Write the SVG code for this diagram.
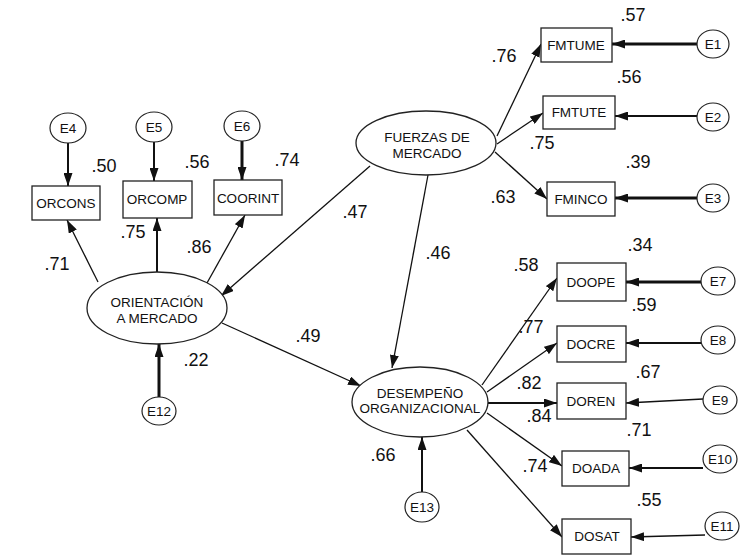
<svg xmlns="http://www.w3.org/2000/svg" width="747" height="560" viewBox="0 0 747 560">
<style>
.bg{fill:#fff}
.box{fill:#fff;stroke:#222;stroke-width:1.3}
.lat{fill:#fff;stroke:#222;stroke-width:1.3}
.err{fill:#fff;stroke:#222;stroke-width:1.2}
.lbl{font-family:"Liberation Sans",Arial,sans-serif;font-size:13.5px;fill:#111;text-anchor:middle}
.num{font-family:"Liberation Sans",Arial,sans-serif;font-size:18px;fill:#111;text-anchor:middle}
.c{stroke:#111;stroke-width:1.3;fill:none;marker-end:url(#ah)}
.t2{stroke-width:2}
.t3{stroke-width:3}
</style>
<defs>
<marker id="ah" markerUnits="userSpaceOnUse" markerWidth="13" markerHeight="9" refX="13" refY="4.5" orient="auto">
<path d="M0,0 L13,4.5 L0,9 z" fill="#111"/>
</marker>
</defs>
<rect class="bg" x="0" y="0" width="747" height="560"/>
<g id="connectors">
<line class="c t2" x1="68" y1="143" x2="68" y2="186"/>
<line class="c t2" x1="154" y1="142" x2="154" y2="181"/>
<line class="c t3" x1="242" y1="141" x2="242" y2="180"/>
<line class="c" x1="98" y1="282" x2="67" y2="220"/>
<line class="c t2" x1="157" y1="272" x2="157" y2="218"/>
<line class="c" x1="207" y1="283" x2="245" y2="215"/>
<line class="c" x1="370" y1="166" x2="221" y2="296"/>
<line class="c" x1="428" y1="175" x2="392" y2="368"/>
<line class="c" x1="497" y1="136" x2="541" y2="44"/>
<line class="c" x1="497" y1="144" x2="543" y2="113"/>
<line class="c" x1="495" y1="152" x2="547" y2="199"/>
<line class="c t3" x1="697" y1="44" x2="612" y2="44"/>
<line class="c t2" x1="697" y1="116" x2="615" y2="116"/>
<line class="c t3" x1="697" y1="198" x2="615" y2="198"/>
<line class="c" x1="222" y1="323" x2="361" y2="386"/>
<line class="c t3" x1="159" y1="397" x2="159" y2="344"/>
<line class="c t2" x1="422" y1="492" x2="422" y2="437"/>
<line class="c" x1="482" y1="385" x2="557" y2="278"/>
<line class="c" x1="487" y1="392" x2="557" y2="343"/>
<line class="c t2" x1="488" y1="403" x2="557" y2="403"/>
<line class="c" x1="487" y1="413" x2="562" y2="466"/>
<line class="c" x1="467" y1="430" x2="562" y2="537"/>
<line class="c t3" x1="701" y1="282" x2="626" y2="282"/>
<line class="c t2" x1="701" y1="343" x2="626" y2="343"/>
<line class="c" x1="703" y1="399" x2="626" y2="403"/>
<line class="c t2" x1="703" y1="468" x2="629" y2="468"/>
<line class="c" x1="705" y1="535" x2="631" y2="537"/>
</g>
<g id="OR"><ellipse class="lat" cx="157" cy="308" rx="70" ry="36"/><text class="lbl" x="157" y="307">ORIENTACIÓN</text><text class="lbl" x="157" y="323">A MERCADO</text></g>
<g id="FM"><ellipse class="lat" cx="426" cy="143" rx="70" ry="32"/><text class="lbl" x="427" y="142">FUERZAS DE</text><text class="lbl" x="427" y="158">MERCADO</text></g>
<g id="DO"><ellipse class="lat" cx="420" cy="402" rx="68" ry="35"/><text class="lbl" x="420" y="398">DESEMPEÑO</text><text class="lbl" x="420" y="413">ORGANIZACIONAL</text></g>
<g id="ORCONS"><rect class="box" x="32" y="186" width="68" height="34"/><text class="lbl" x="66" y="208">ORCONS</text></g>
<g id="ORCOMP"><rect class="box" x="123" y="181" width="69" height="37"/><text class="lbl" x="157" y="204">ORCOMP</text></g>
<g id="COORINT"><rect class="box" x="214" y="180" width="68" height="35"/><text class="lbl" x="248" y="203">COORINT</text></g>
<g id="FMTUME"><rect class="box" x="541" y="28" width="71" height="34"/><text class="lbl" x="576" y="50">FMTUME</text></g>
<g id="FMTUTE"><rect class="box" x="543" y="96" width="72" height="33"/><text class="lbl" x="579" y="117">FMTUTE</text></g>
<g id="FMINCO"><rect class="box" x="547" y="182" width="68" height="34"/><text class="lbl" x="581" y="204">FMINCO</text></g>
<g id="DOOPE"><rect class="box" x="557" y="263" width="69" height="38"/><text class="lbl" x="591" y="287">DOOPE</text></g>
<g id="DOCRE"><rect class="box" x="557" y="326" width="69" height="36"/><text class="lbl" x="591" y="349">DOCRE</text></g>
<g id="DOREN"><rect class="box" x="557" y="383" width="69" height="36"/><text class="lbl" x="591" y="406">DOREN</text></g>
<g id="DOADA"><rect class="box" x="562" y="451" width="67" height="35"/><text class="lbl" x="596" y="473">DOADA</text></g>
<g id="DOSAT"><rect class="box" x="562" y="519" width="69" height="35"/><text class="lbl" x="597" y="541">DOSAT</text></g>
<g id="E1"><ellipse class="err" cx="713" cy="44" rx="16" ry="14"/><text class="lbl" x="713" y="49">E1</text></g>
<g id="E2"><ellipse class="err" cx="713" cy="117" rx="16" ry="14"/><text class="lbl" x="713" y="122">E2</text></g>
<g id="E3"><ellipse class="err" cx="713" cy="198" rx="16" ry="14"/><text class="lbl" x="713" y="203">E3</text></g>
<g id="E4"><ellipse class="err" cx="68" cy="128" rx="18" ry="15"/><text class="lbl" x="68" y="133">E4</text></g>
<g id="E5"><ellipse class="err" cx="154" cy="127" rx="18" ry="15"/><text class="lbl" x="154" y="132">E5</text></g>
<g id="E6"><ellipse class="err" cx="242" cy="126" rx="18" ry="15"/><text class="lbl" x="242" y="131">E6</text></g>
<g id="E7"><ellipse class="err" cx="718" cy="281" rx="17" ry="14"/><text class="lbl" x="718" y="286">E7</text></g>
<g id="E8"><ellipse class="err" cx="718" cy="340" rx="17" ry="14"/><text class="lbl" x="718" y="345">E8</text></g>
<g id="E9"><ellipse class="err" cx="720" cy="400" rx="17" ry="14"/><text class="lbl" x="720" y="405">E9</text></g>
<g id="E10"><ellipse class="err" cx="720" cy="459" rx="17" ry="14"/><text class="lbl" x="720" y="464">E10</text></g>
<g id="E11"><ellipse class="err" cx="722" cy="526" rx="17" ry="14"/><text class="lbl" x="722" y="531">E11</text></g>
<g id="E12"><ellipse class="err" cx="159" cy="411" rx="17" ry="14"/><text class="lbl" x="159" y="416">E12</text></g>
<g id="E13"><ellipse class="err" cx="422" cy="507" rx="17" ry="15"/><text class="lbl" x="422" y="512">E13</text></g>
<g id="labels">
<text class="num" x="104" y="172">.50</text>
<text class="num" x="197" y="168">.56</text>
<text class="num" x="287" y="166">.74</text>
<text class="num" x="133" y="238">.75</text>
<text class="num" x="199" y="253">.86</text>
<text class="num" x="57" y="270">.71</text>
<text class="num" x="633" y="21">.57</text>
<text class="num" x="629" y="83">.56</text>
<text class="num" x="542" y="149">.75</text>
<text class="num" x="638" y="168">.39</text>
<text class="num" x="504" y="62">.76</text>
<text class="num" x="503" y="203">.63</text>
<text class="num" x="355" y="218">.47</text>
<text class="num" x="438" y="259">.46</text>
<text class="num" x="308" y="342">.49</text>
<text class="num" x="196" y="366">.22</text>
<text class="num" x="383" y="461">.66</text>
<text class="num" x="526" y="271">.58</text>
<text class="num" x="531" y="333">.77</text>
<text class="num" x="529" y="389">.82</text>
<text class="num" x="539" y="422">.84</text>
<text class="num" x="535" y="472">.74</text>
<text class="num" x="640" y="251">.34</text>
<text class="num" x="644" y="311">.59</text>
<text class="num" x="648" y="378">.67</text>
<text class="num" x="639" y="436">.71</text>
<text class="num" x="649" y="506">.55</text>
</g>
</svg>
